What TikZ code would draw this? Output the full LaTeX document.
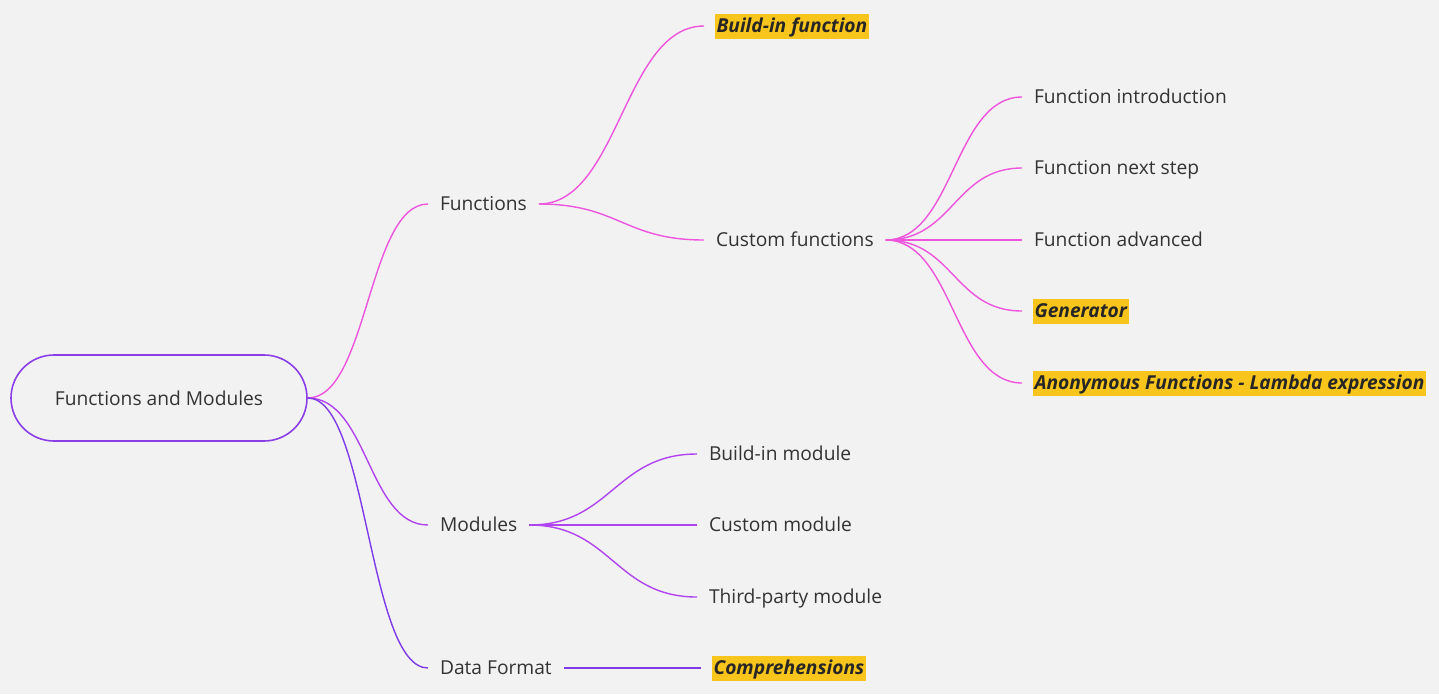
\documentclass[tikz,border=0pt]{standalone}
\usepackage{fontspec}
\setmainfont{Open Sans}
\usetikzlibrary{positioning}

\definecolor{bg}{HTML}{F2F2F2}
\definecolor{txt}{HTML}{333333}
\definecolor{pinkline}{HTML}{EE55DD}
\definecolor{violetline}{HTML}{B044EE}
\definecolor{purpleline}{HTML}{7F3BE8}
\definecolor{rootline}{HTML}{8A3FE6}
\definecolor{hilite}{HTML}{F8C51C}

\begin{document}
\begin{tikzpicture}[x=1pt,y=-1pt,line width=1.4pt,
	font=\fontsize{19.2}{23}\selectfont,
	root node/.style={draw=rootline,line width=1.6pt,rounded corners=43pt,minimum width=296pt,minimum height=86pt,text=txt},
	leaf/.style={anchor=west,text=txt,inner xsep=0pt,outer xsep=12pt,text height=16pt,text depth=3pt},
	hot leaf/.style={anchor=west,fill=hilite,text=black!85,font=\fontsize{19.2}{23}\selectfont\bfseries\itshape,inner xsep=1.5pt,inner ysep=3pt,outer xsep=11pt,text height=16pt,text depth=3pt},
	mm/.style={to path={.. controls ([xshift=#1]\tikztostart) and ([xshift=-#1]\tikztotarget) .. (\tikztotarget)}},
	mm/.default=60pt]

	%background and page size
	\fill[bg] (0,0) rectangle (1439,694);
	\useasboundingbox (0,0) rectangle (1439,694);

	%nodes
	\node[root node] (root) at (159,398) {Functions and Modules};
	\node[leaf] (fun) at (428,204) {Functions};
	\node[hot leaf] (build) at (704,26) {Build-in function};
	\node[leaf] (custom) at (704,240) {Custom functions};
	\node[leaf] (intro) at (1022,97) {Function introduction};
	\node[leaf] (next) at (1022,168) {Function next step};
	\node[leaf] (adv) at (1022,240) {Function advanced};
	\node[hot leaf] (gen) at (1022,311) {Generator};
	\node[hot leaf] (anon) at (1022,383) {Anonymous Functions - Lambda expression};
	\node[leaf] (mod) at (428,525) {Modules};
	\node[leaf] (bmod) at (697,454) {Build-in module};
	\node[leaf] (cmod) at (697,525) {Custom module};
	\node[leaf] (tmod) at (697,597) {Third-party module};
	\node[leaf] (data) at (428,668) {Data Format};
	\node[hot leaf] (comp) at (701,668) {Comprehensions};

	%edges
	\path[draw=pinkline]
		(root.east) edge[mm] (fun.west)
		(fun.east) edge[mm=80pt] (build.west)
		(fun.east) edge[mm=80pt] (custom.west)
		(custom.east) edge[mm=68pt] (intro.west)
		(custom.east) edge[mm=68pt] (next.west)
		(custom.east) edge (adv.west)
		(custom.east) edge[mm=68pt] (gen.west)
		(custom.east) edge[mm=68pt] (anon.west);
	\path[draw=violetline]
		(root.east) edge[mm] (mod.west)
		(mod.east) edge[mm=82pt] (bmod.west)
		(mod.east) edge (cmod.west)
		(mod.east) edge[mm=82pt] (tmod.west);
	\path[draw=purpleline]
		(root.east) edge[mm] (data.west)
		(data.east) edge (comp.west);

\end{tikzpicture}
\end{document}
